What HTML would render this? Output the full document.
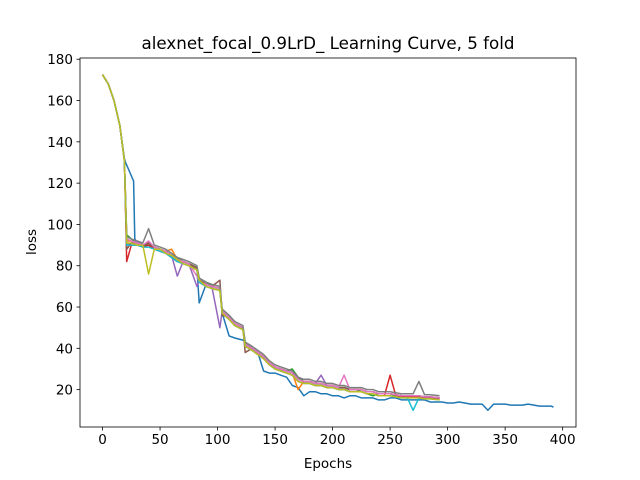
<!DOCTYPE html>
<html><head><meta charset="utf-8"><style>
body{margin:0;background:#fff;}
svg{display:block;font-family:"DejaVu Sans","Liberation Sans",sans-serif;}
</style></head><body>
<svg id="chart" width="640" height="480">
<rect width="640" height="480" fill="#fff"/>
<text x="328" y="49" font-size="16.7" text-anchor="middle">alexnet_focal_0.9LrD_ Learning Curve, 5 fold</text>
<text x="328" y="468" font-size="13.5" text-anchor="middle">Epochs</text>
<text x="0" y="0" font-size="13.5" text-anchor="middle" transform="translate(36,242) rotate(-90)">loss</text>
<g id="plot"></g>
</svg>
<script>
const xTicks=[0,50,100,150,200,250,300,350,400];
const yTicks=[20,40,60,80,100,120,140,160,180];
const shortEpochs=[0,5,10,15,19,21,25,30,35,40,45,50,55,60,65,70,75,82,84,90,95,102,104,110,115,122,124,130,135,140,145,150,155,160,165,170,175,180,185,190,195,200,205,210,215,220,225,230,235,240,245,250,255,260,265,270,275,280,285,293];
const blueEpochs=[0,5,10,15,19,20,27,28,30,35,40,45,50,55,60,65,70,75,82,84,90,95,102,104,110,115,122,124,130,135,140,145,150,155,160,165,170,175,180,185,190,195,200,205,210,215,220,225,230,235,240,245,250,255,260,265,270,275,280,285,290,295,300,305,310,315,320,325,330,335,340,345,350,355,360,365,370,375,380,385,390,392];
const blueLoss=[172.5,168,160,148,132,130,121,93,91,90,90,89,88,87,85,83,82,81,79,62,71,70,69,57,46,45,44,43,40,38,29,28,28,27,26,22,21,17,19,19,18,18,17,17,16,17,17,16,16,16,15,15,16,16,15,15,15,15,15,14,14,14,13.5,13.5,14,13.5,13,13,13,10,13,13,13,12.5,12.5,12.5,13,12.5,12,12,12,11.5];
const orangeLoss=[172.5,168,160,148,131,92,92,91,90,90,89,88,87,88,83,82,81,78,72,71,70,69,57,55,52,50,42,40,38,35,33,31,30,29,28,20,24,24,23,23,22,22,21,21,20,20,20,19,19,18,18,18,17.5,17,17,17,17,16.5,16.5,16];
const greenLoss=[172.5,168,160,148,131,95,93,91,90,90,89,88,87,85,84,82,81,79,74,72,70,69,58,55,52,50,43,40,38,36,33,31,30,29,30,26,24,24,23,23,22,22,21,21,20,20,19,18,17,18,18,18,17,17,17,17,17,16.5,16,16];
const redLoss=[172.5,168,160,148,131,82,90,90,89,90,88,87,86,84,82,81,80,78,72,70,69,68,57,54,51,49,41,39,37,35,32,30,29,28,27,24,23,23,22,22,21,21,20,20,19,19,19,18,18,17,17,27,17,16.5,16.5,16.5,16.5,16,16,15.5];
const purpleLoss=[172.5,168,160,148,131,90,91,92,90,91,89,88,87,85,75,82,81,70,73,71,70,50,58,55,52,50,42,40,38,36,33,31,30,29,28,25,24,24,23,27,22,22,21,21,20,20,20,19,19,18,18,18,17.5,17,17,17,17,16.5,16.5,16];
const brownLoss=[172.5,168,160,148,131,88,91,91,90,91,89,88,87,85,83,82,81,79,73,71,70,73,56,55,52,50,38,40,38,36,33,31,30,29,28,25,24,24,23,23,22,22,21,21,20,20,20,19,19,18,18,18,17.5,17,17,17,17,16.5,16.5,16];
const pinkLoss=[172.5,168,160,148,131,93,92,91,90,92,89,88,87,85,83,82,81,75,72,71,70,69,58,55,52,50,42,40,38,36,33,31,30,29,28,25,24,24,23,23,22,22,21,27,20,20,20,19,19,18,18,18,17.5,17,17,17,17,16.5,16.5,16];
const grayLoss=[172.5,168,160,148,131,94,93,92,91,98,90,89,88,86,84,83,82,80,74,72,71,70,59,56,53,51,43,41,39,37,34,32,31,30,29,26,25,25,24,24,23,23,22,22,21,21,21,20,20,19,19,19,18.5,18,18,18,24,17.5,17.5,17];
const oliveLoss=[172.5,168,160,148,131,91,91,90,90,76,88,88,86,85,83,81,80,78,73,70,69,68,57,54,51,49,41,39,37,35,32,30,29,28,27,24,23,23,22,22,21,21,20,20,19,19,19,18,18,17,17,17,16.5,16,16,16,16,15.5,15.5,15];
const cyanLoss=[172.5,168,160,148,131,90,90,90,89,89,88,87,86,84,82,81,80,78,72,70,69,68,57,54,51,49,41,39,37,35,32,30,29,28,27,24,23,23,22,22,21,21,20,20,19,19,19,18,18,17,17,17,16.5,16,16,10,16,15.5,15.5,15];

const L=80,R=576,T=58,B=427,xmin=-19.6,xmax=411.6,ymin=1.9,ymax=180.6;
const sx=v=>L+(v-xmin)/(xmax-xmin)*(R-L);
const sy=v=>B-(v-ymin)/(ymax-ymin)*(B-T);
const NS="http://www.w3.org/2000/svg";
const g=document.getElementById('plot');
function mk(t,a){const e=document.createElementNS(NS,t);for(const k in a)e.setAttribute(k,a[k]);return e;}
const series=[[blueEpochs,blueLoss,'#1f77b4'],[shortEpochs,orangeLoss,'#ff7f0e'],[shortEpochs,greenLoss,'#2ca02c'],[shortEpochs,redLoss,'#d62728'],[shortEpochs,purpleLoss,'#9467bd'],[shortEpochs,brownLoss,'#8c564b'],[shortEpochs,pinkLoss,'#e377c2'],[shortEpochs,grayLoss,'#7f7f7f'],[shortEpochs,cyanLoss,'#17becf'],[shortEpochs,oliveLoss,'#bcbd22']];
const names=['blue','orange','green','red','purple','brown','pink','gray','cyan','olive'];
series.forEach((s,i)=>{
  const n=Math.min(s[0].length,s[1].length);
  let d='';
  for(let k=0;k<n;k++)d+=(k?'L':'M')+sx(s[0][k]).toFixed(1)+','+sy(s[1][k]).toFixed(1);
  const p=mk('path',{d:d,fill:'none',stroke:s[2],'stroke-width':1.5,'stroke-linejoin':'round'});
  
  
  g.appendChild(p);
});
const frame=mk('rect',{x:L,y:T,width:R-L,height:B-T,fill:'none',stroke:'#000','stroke-width':0.8});


g.appendChild(frame);
xTicks.forEach(v=>{
  const x=sx(v);
  const t=mk('line',{x1:x,x2:x,y1:B,y2:B+3.5,stroke:'#000','stroke-width':0.8});
  
  
  g.appendChild(t);
  const l=mk('text',{x:x,y:B+17,'font-size':13.5,'text-anchor':'middle'});
  l.textContent=v;
  
  
  g.appendChild(l);
});
yTicks.forEach(v=>{
  const y=sy(v);
  const t=mk('line',{x1:L-3.5,x2:L,y1:y,y2:y,stroke:'#000','stroke-width':0.8});
  
  
  g.appendChild(t);
  const l=mk('text',{x:L-7,y:y+5,'font-size':13.5,'text-anchor':'end'});
  l.textContent=v;
  
  
  g.appendChild(l);
});
</script>
</body></html>
